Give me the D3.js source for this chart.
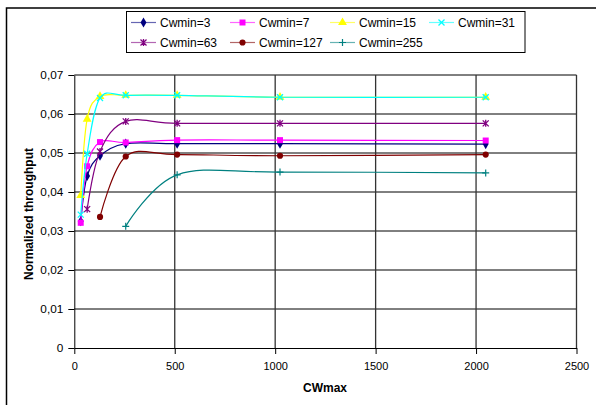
<!DOCTYPE html>
<html>
<head>
<meta charset="utf-8">
<script src="https://cdn.jsdelivr.net/npm/d3@7"></script>
<style>
  body { margin: 0; background: #fff; }
  svg { display: block; font-family: Arial, "Liberation Sans", sans-serif; }
</style>
</head>
<body>
<div id="chart"></div>
<script>
// data
var cwmax = [32, 64, 128, 256, 512, 1024, 2048];
var yTicks = [0, 0.01, 0.02, 0.03, 0.04, 0.05, 0.06, 0.07];
var xTicks = [0, 500, 1000, 1500, 2000, 2500];

var cw3 = [0.0325, 0.0441, 0.0493, 0.0524, 0.0524, 0.0524, 0.0523];
var cw7 = [0.0321, 0.0466, 0.0528, 0.0527, 0.0533, 0.0533, 0.0532];
var cw15 = [0.0391, 0.0587, 0.0645, 0.0648, 0.0648, 0.0643, 0.0643];
var cw31 = [0.0342, 0.0498, 0.0641, 0.0648, 0.0648, 0.0643, 0.0643];
var cw63 = [null, 0.0356, 0.0504, 0.0581, 0.0576, 0.0576, 0.0576];
var cw127 = [null, null, 0.0336, 0.0491, 0.0496, 0.0493, 0.0496];
var cw255 = [null, null, null, 0.0312, 0.0444, 0.0451, 0.0449];

var series = [
    {name: 'Cwmin=3', values: cw3, color: '#000080', marker: 'diamond'},
    {name: 'Cwmin=7', values: cw7, color: '#ff00ff', marker: 'square'},
    {name: 'Cwmin=15', values: cw15, color: '#ffff00', marker: 'triangle'},
    {name: 'Cwmin=31', values: cw31, color: '#00ffff', marker: 'x'},
    {name: 'Cwmin=63', values: cw63, color: '#800080', marker: 'star'},
    {name: 'Cwmin=127', values: cw127, color: '#800000', marker: 'circle'},
    {name: 'Cwmin=255', values: cw255, color: '#008080', marker: 'plus'}
];

var width = 596, height = 405;
var plot = {left: 74.3, right: 576.5, top: 75, bottom: 348};

var svg = d3.select('#chart').append('svg')
    .attr('width', width)
    .attr('height', height);

svg.append('rect').attr('width', width).attr('height', height).attr('fill', '#fff');

// chart border (cut off at right/bottom like the reference)
svg.append('rect')
    .attr('x', 6.5).attr('y', 8)
    .attr('width', 620).attr('height', 420)
    .attr('fill', 'none').attr('stroke', '#000').attr('stroke-width', 1.5);

var x = d3.scaleLinear().domain([0, 2500]).range([plot.left, plot.right]);
var y = d3.scaleLinear().domain([0, 0.07]).range([plot.bottom, plot.top]);

var comma = d3.formatLocale({decimal: ',', thousands: '.', grouping: [3], currency: ['', '']}).format('.2f');

// grid
var grid = svg.append('g').attr('class', 'grid');
grid.selectAll('line.h').data(yTicks.slice(1)).enter().append('line')
    .attr('class', 'h')
    .attr('x1', plot.left).attr('x2', plot.right)
    .attr('y1', function (d) { return y(d); })
    .attr('y2', function (d) { return y(d); })
    .attr('stroke', '#000');
grid.selectAll('line.v').data(xTicks.slice(1)).enter().append('line')
    .attr('class', 'v')
    .attr('y1', plot.top).attr('y2', plot.bottom)
    .attr('x1', function (d) { return x(d); })
    .attr('x2', function (d) { return x(d); })
    .attr('stroke', '#333').attr('stroke-width', 1.3);

// axes
var yAxis = d3.axisLeft(y).tickValues(yTicks).tickSizeInner(6).tickSizeOuter(0).tickPadding(5)
    .tickFormat(function (d) { return d === 0 ? '0' : comma(d); });
var xAxis = d3.axisBottom(x).tickValues(xTicks).tickSizeInner(6).tickSizeOuter(0).tickPadding(8)
    .tickFormat(d3.format('d'));

var yG = svg.append('g').attr('transform', 'translate(' + plot.left + ',0)').call(yAxis);
var xG = svg.append('g').attr('transform', 'translate(0,' + plot.bottom + ')').call(xAxis);
[yG, xG].forEach(function (g) {
    g.selectAll('path, line').attr('stroke', '#000');
    g.selectAll('text').attr('fill', '#000');
});
yG.selectAll('text').style('font-size', '11.8px');
xG.selectAll('text').style('font-size', '11px');

svg.append('text')
    .attr('x', 325).attr('y', 392)
    .attr('text-anchor', 'middle')
    .style('font-size', '12px').style('font-weight', 'bold')
    .text('CWmax');
svg.append('text')
    .attr('transform', 'translate(32.5,214) rotate(-90)')
    .attr('text-anchor', 'middle')
    .style('font-size', '12px').style('font-weight', 'bold')
    .text('Normalized throughput');

// markers
function drawMarker(g, type, color) {
    if (type === 'diamond') {
        g.append('path').attr('d', d3.symbol().type(d3.symbolDiamond).size(30)()).attr('fill', color);
    } else if (type === 'square') {
        g.append('path').attr('d', d3.symbol().type(d3.symbolSquare).size(36)()).attr('fill', color);
    } else if (type === 'triangle') {
        g.append('path').attr('d', d3.symbol().type(d3.symbolTriangle).size(34)()).attr('fill', color);
    } else if (type === 'circle') {
        g.append('path').attr('d', d3.symbol().type(d3.symbolCircle).size(30)()).attr('fill', color);
    } else if (type === 'x') {
        g.append('path').attr('d', 'M-3,-3L3,3M-3,3L3,-3').attr('stroke', color).attr('stroke-width', 1.3).attr('fill', 'none');
    } else if (type === 'star') {
        g.append('path').attr('d', 'M-3,-3L3,3M-3,3L3,-3M0,-3.5L0,3.5').attr('stroke', color).attr('stroke-width', 1.3).attr('fill', 'none');
    } else if (type === 'plus') {
        g.append('path').attr('d', 'M-3.5,0L3.5,0M0,-3.5L0,3.5').attr('stroke', color).attr('stroke-width', 1.2).attr('fill', 'none');
    }
}

var line = d3.line()
    .x(function (d) { return x(d[0]); })
    .y(function (d) { return y(d[1]); })
    .curve(d3.curveCatmullRom.alpha(0));

var plotG = svg.append('g').attr('class', 'series');
series.forEach(function (s) {
    var pts = [];
    s.values.forEach(function (v, i) {
        if (v !== null) pts.push([cwmax[i], v]);
    });
    var g = plotG.append('g');
    g.append('path')
        .attr('d', line(pts))
        .attr('fill', 'none')
        .attr('stroke', s.color)
        .attr('stroke-width', 1.2);
    pts.forEach(function (p) {
        var m = g.append('g').attr('transform', 'translate(' + x(p[0]) + ',' + y(p[1]) + ')');
        drawMarker(m, s.marker, s.color);
    });
});

// legend
var legend = svg.append('g').attr('class', 'legend');
legend.append('rect')
    .attr('x', 126.5).attr('y', 11.5)
    .attr('width', 398.5).attr('height', 41)
    .attr('fill', '#fff').attr('stroke', '#000');

var colX = [131, 230, 330, 429];
var rowY = [22.5, 42.5];
series.forEach(function (s, i) {
    var lx = colX[i % 4], ly = rowY[Math.floor(i / 4)];
    var item = legend.append('g').attr('transform', 'translate(' + lx + ',' + ly + ')');
    item.append('line')
        .attr('x1', 0).attr('x2', 25)
        .attr('stroke', s.color).attr('stroke-width', 1.2).attr('stroke-opacity', 0.6);
    var m = item.append('g').attr('transform', 'translate(12.5,0)');
    drawMarker(m, s.marker, s.color);
    item.append('text')
        .attr('x', 29).attr('y', 4)
        .style('font-size', '12px')
        .text(s.name);
});
</script>
</body>
</html>
